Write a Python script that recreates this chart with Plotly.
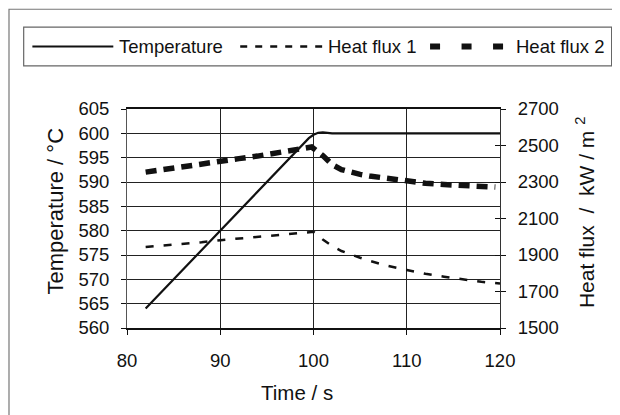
import plotly.graph_objects as go

# ---------------- data ----------------
time_temp = [82, 99.5, 100, 100.5, 101, 102, 120]
temperature = [564, 599, 599.7, 600.1, 600.2, 600, 600]

time_flux1 = [82, 84, 86, 88, 90, 92, 94, 96, 98, 99, 100, 101, 102, 103, 104,
              105, 106, 108, 110, 112, 114, 116, 118, 120]
heat_flux1 = [1944, 1952, 1960, 1970, 1981, 1990, 1998, 2006, 2016, 2021, 2027,
              1985, 1950, 1922, 1902, 1885, 1868, 1840, 1818, 1797, 1781, 1766,
              1753, 1744]

time_flux2 = [82, 84, 86, 88, 90, 92, 94, 96, 98, 99, 99.8, 101, 102, 103, 104,
              105, 106, 108, 110, 112, 114, 116, 118, 119.5]
heat_flux2 = [2354, 2370, 2387, 2399, 2415, 2428, 2442, 2460, 2474, 2482, 2492,
              2445, 2395, 2368, 2352, 2342, 2333, 2318, 2303, 2293, 2286, 2280,
              2275, 2272]

x_ticks = [80, 90, 100, 110, 120]
temp_ticks = [560, 565, 570, 575, 580, 585, 590, 595, 600, 605]
flux_ticks = [1500, 1700, 1900, 2100, 2300, 2500, 2700]

series_names = ["Temperature", "Heat flux 1", "Heat flux 2"]

# ---------------- layout geometry ----------------
# the page body has an 8px margin; geometry below is in window pixels
OFF = 8
W, H = 620 - OFF, 415 - OFF
L, R, T, B = 126.7 - OFF, 500.0 - OFF, 109.0 - OFF, 327.7 - OFF
FONT = "Liberation Sans, Arial, sans-serif"


def px(xpix):
    return (xpix - OFF - L) / (R - L)


def py(ypix):
    return (B - (ypix - OFF)) / (B - T)


fig = go.Figure()

fig.add_trace(go.Scatter(x=time_temp, y=temperature, name=series_names[0],
                         mode="lines", line=dict(color="#111111", width=2.2),
                         yaxis="y"))
fig.add_trace(go.Scatter(x=time_flux1, y=heat_flux1, name=series_names[1],
                         mode="lines",
                         line=dict(color="#111111", width=2.5, dash="8px,10px"),
                         yaxis="y2"))
fig.add_trace(go.Scatter(x=time_flux2, y=heat_flux2, name=series_names[2],
                         mode="lines",
                         line=dict(color="#111111", width=5.5, dash="11px,7px"),
                         yaxis="y2"))

tick_font = dict(family=FONT, size=18.5, color="#111111")
title_font = dict(family=FONT, size=20, color="#111111")

flux_axis = dict(range=[1500, 2700], tickvals=flux_ticks, overlaying="y",
                 side="right", ticklen=5, tickcolor="#111111",
                 showgrid=False, zeroline=False)

fig.update_layout(
    width=W, height=H,
    margin=dict(l=L, r=W - R, t=T, b=H - B, pad=0),
    paper_bgcolor="white", plot_bgcolor="white",
    showlegend=False,
    font=tick_font,
    xaxis=dict(range=[80, 120], tickvals=x_ticks, ticks="outside", ticklen=5,
               tickcolor="#111111", showgrid=True, gridcolor="#222222",
               gridwidth=1, showline=True, linecolor="#111111", linewidth=1.5,
               mirror=True, zeroline=False, tickfont=tick_font,
               ticklabelstandoff=10),
    yaxis=dict(range=[560, 605], tickvals=temp_ticks, ticks="outside",
               ticklen=5, tickcolor="#111111", showgrid=True,
               gridcolor="#222222", gridwidth=1, showline=True,
               linecolor="#555555", linewidth=1, zeroline=False,
               tickfont=tick_font, ticklabelstandoff=8),
    yaxis2=dict(flux_axis, ticks="outside", showline=True,
                linecolor="#333333", linewidth=1, tickfont=tick_font,
                ticklabelstandoff=8),
    yaxis3=dict(flux_axis, ticks="inside", showline=False,
                showticklabels=False),
)
# invisible helper trace so the inside-tick flux axis is drawn
fig.add_trace(go.Scatter(x=[None], y=[None], yaxis="y3", showlegend=False,
                         hoverinfo="skip"))

# outer chart border (left and top visible, rest cropped)
fig.add_shape(type="rect", xref="paper", yref="paper",
              x0=px(8.6), x1=px(700), y0=py(9.4), y1=py(500),
              line=dict(color="#777777", width=1.2), layer="below")

# legend box
fig.add_shape(type="rect", xref="paper", yref="paper",
              x0=px(23.3), x1=px(611.7), y0=py(66), y1=py(27.3),
              line=dict(color="#666666", width=1.2), fillcolor="white")

ly = 46.5
fig.add_shape(type="line", xref="paper", yref="paper",
              x0=px(32), x1=px(113), y0=py(ly), y1=py(ly),
              line=dict(color="#111111", width=2))
fig.add_shape(type="line", xref="paper", yref="paper",
              x0=px(240), x1=px(322), y0=py(ly), y1=py(ly),
              line=dict(color="#111111", width=2.5, dash="7px,8px"))
fig.add_shape(type="line", xref="paper", yref="paper",
              x0=px(430), x1=px(504), y0=py(ly), y1=py(ly),
              line=dict(color="#111111", width=6, dash="10px,21.5px"))

for name, xs in zip(series_names, [117, 325.5, 514.5]):
    fig.add_annotation(text=name, xref="paper", yref="paper", x=px(xs),
                       y=py(ly), xanchor="left", yanchor="middle",
                       showarrow=False, font=tick_font)

# axis titles
fig.add_annotation(text="Time / s", xref="paper", yref="paper",
                   x=px(297), y=py(392), xanchor="center", yanchor="middle",
                   showarrow=False, font=dict(title_font, size=20.5))
fig.add_annotation(text="Temperature / °C", xref="paper", yref="paper",
                   x=px(55), y=py(211), xanchor="center", yanchor="middle",
                   textangle=-90, showarrow=False, font=dict(title_font, size=22))
fig.add_annotation(text="Heat flux\u00a0 /\u00a0 kW / m <sup>2</sup>",
                   xref="paper", yref="paper",
                   x=px(585), y=py(212), xanchor="center", yanchor="middle",
                   textangle=-90, showarrow=False, font=dict(title_font, size=21))

fig.write_html("out.html")
